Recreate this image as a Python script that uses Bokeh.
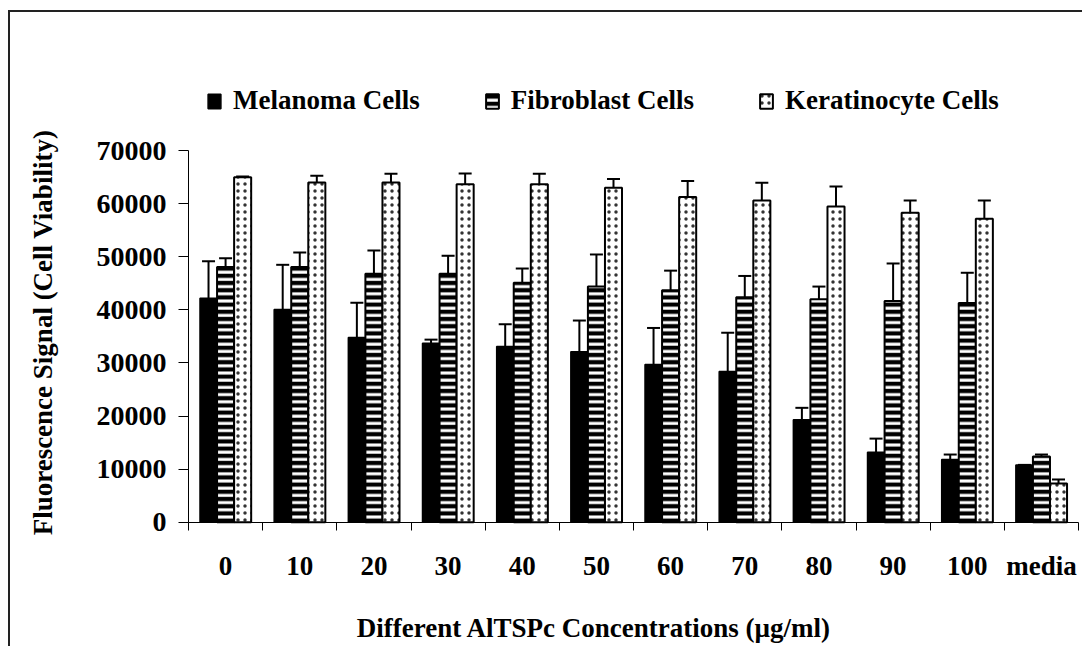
import numpy as np
from bokeh.plotting import figure
from bokeh.models import (ColumnDataSource, Range1d, FixedTicker, Whisker, TeeHead,
                          Legend, LegendItem, Label)
from bokeh.embed import file_html
from bokeh.resources import INLINE

# ---------------- data ----------------
concentrations = ["0", "10", "20", "30", "40", "50", "60", "70", "80", "90", "100", "media"]
melanoma = [42200, 40100, 34800, 33700, 33100, 32100, 29700, 28400, 19300, 13200, 11800, 10800]
melanoma_err = [6950, 8400, 6550, 700, 4200, 5900, 6900, 7300, 2250, 2550, 950, 0]
fibroblast = [48100, 48100, 46800, 46800, 45100, 44400, 43700, 42400, 42000, 41700, 41300, 12400]
fibroblast_err = [1650, 2700, 4400, 3400, 2700, 6050, 3700, 4000, 2400, 7050, 5700, 350]
keratinocyte = [65000, 64000, 64000, 63700, 63700, 63000, 61300, 60600, 59500, 58300, 57200, 7300]
keratinocyte_err = [150, 1300, 1650, 2000, 1950, 1650, 3000, 3350, 3750, 2300, 3400, 750]

y_ticks = [0, 10000, 20000, 30000, 40000, 50000, 60000, 70000]
series_names = ["Melanoma Cells", "Fibroblast Cells", "Keratinocyte Cells"]
x_title = "Different AlTSPc Concentrations (\u00b5g/ml)"
y_title = "Fluorescence Signal (Cell Viability)"

FONT = "Liberation Serif"
n = len(concentrations)
centers = np.arange(n) + 0.5
bar_w = 0.23
offsets = [-bar_w, 0.0, bar_w]

# The frame covers the whole canvas; both axes are pinned at 0 and bounded, so
# that legend and titles can be drawn inside the frame without clipping.
p = figure(width=1074, height=636, output_backend="svg", toolbar_location=None,
           x_range=Range1d(-2.3999, 12.0804), y_range=Range1d(-23799, 96043),
           min_border_left=0, min_border_right=0, min_border_top=0, min_border_bottom=0)
p.margin = (10, 0, 0, 8)
p.styles = {"border-left": "2px solid #222222", "border-top": "2px solid #222222"}
p.outline_line_color = None
p.xgrid.visible = False
p.ygrid.visible = False
p.background_fill_color = "white"
p.border_fill_color = "white"

styles = [
    dict(fill_color="black", line_color="black", line_width=1.5),
    dict(fill_color="white", line_color="black", line_width=2,
         hatch_pattern="-", hatch_color="black", hatch_scale=7.2, hatch_weight=4.2),
    dict(fill_color="white", line_color="black", line_width=2,
         hatch_pattern=".", hatch_color="#333333", hatch_scale=7.0, hatch_weight=1.0),
]

renderers = []
for vals, errs, off, st in zip([melanoma, fibroblast, keratinocyte],
                                [melanoma_err, fibroblast_err, keratinocyte_err],
                                offsets, styles):
    vals = np.array(vals, dtype=float)
    errs = np.array(errs, dtype=float)
    src = ColumnDataSource(dict(x=centers + off, top=vals, upper=vals + errs))
    r = p.vbar(x="x", top="top", bottom=0, width=bar_w, source=src, **st)
    renderers.append(r)
    w = Whisker(source=src, base="x", lower="top", upper="upper", dimension="height",
                line_color="black", line_width=2, lower_head=None,
                upper_head=TeeHead(size=13, line_width=2, line_color="black"))
    p.add_layout(w)

# y axis pinned at x = 0
ya = p.yaxis[0]
ya.fixed_location = 0
ya.bounds = (0, 70000)
ya.ticker = FixedTicker(ticks=y_ticks)
ya.minor_tick_line_color = None
ya.major_tick_out = 10
ya.major_tick_in = 0
ya.major_label_standoff = 12
ya.major_label_text_font = FONT
ya.major_label_text_font_style = "bold"
ya.major_label_text_font_size = "28px"
ya.major_label_text_color = "black"
ya.axis_line_color = "black"
ya.major_tick_line_color = "black"

# x axis pinned at y = 0
xa = p.xaxis[0]
xa.fixed_location = 0
xa.bounds = (0, n)
xa.ticker = FixedTicker(ticks=list(centers), minor_ticks=list(range(n + 1)))
xa.major_label_overrides = {float(c): lab for c, lab in zip(centers, concentrations)}
xa.major_tick_line_color = None
xa.major_tick_out = 0
xa.major_tick_in = 0
xa.minor_tick_line_color = "black"
xa.minor_tick_out = 8
xa.minor_tick_in = 0
xa.major_label_standoff = 21
xa.major_label_text_font = FONT
xa.major_label_text_font_style = "bold"
xa.major_label_text_font_size = "27px"
xa.major_label_text_color = "black"
xa.axis_line_color = "black"

p.add_layout(Label(x=5.47, y=-19936, text=x_title, text_align="center",
                   text_baseline="middle", text_font=FONT, text_font_style="bold",
                   text_font_size="27px", text_color="black"))
p.add_layout(Label(x=-1.955, y=35745, text=y_title, angle=np.pi / 2,
                   text_align="center", text_baseline="middle", text_font=FONT,
                   text_font_style="bold", text_font_size="27px", text_color="black"))

legend = Legend(items=[LegendItem(label=nm, renderers=[r]) for nm, r in zip(series_names, renderers)],
                orientation="horizontal", location=(196, 532), spacing=64,
                label_standoff=11, glyph_width=16, glyph_height=18,
                padding=0, margin=0, border_line_color=None, background_fill_alpha=0,
                label_text_font=FONT, label_text_font_style="bold",
                label_text_font_size="27px", label_text_color="black")
p.add_layout(legend, "center")

open("out.html", "w").write(file_html(p, INLINE))
